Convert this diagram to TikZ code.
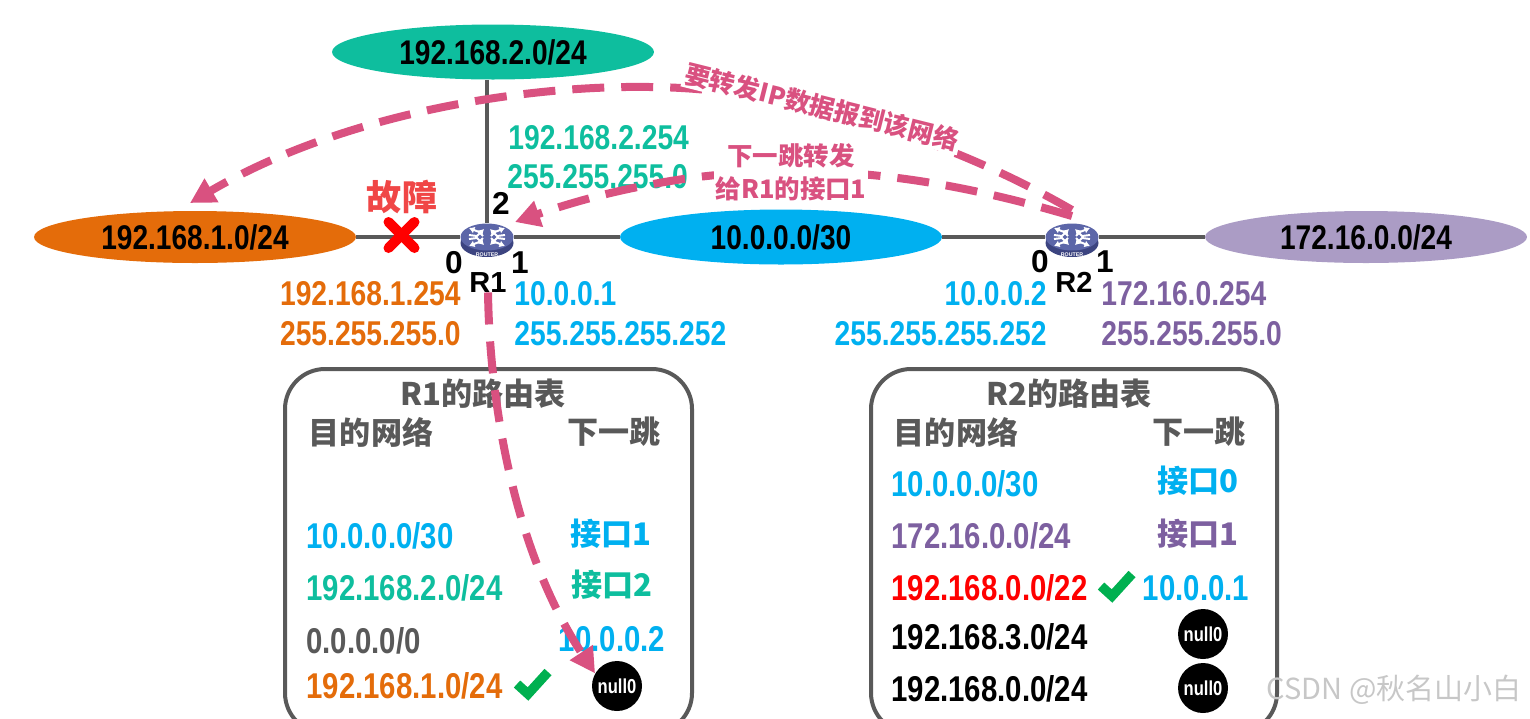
\documentclass[tikz,border=0pt]{standalone}
\usepackage{xcolor}
\usepackage{fontspec}
\setmainfont{Liberation Sans}[FakeStretch=0.82]
\newfontfamily\cjkfont{Noto Sans CJK SC}
\newfontfamily\widefont{Liberation Sans}
\usepackage{tikz}
\usetikzlibrary{calc,positioning,shapes.geometric,arrows.meta}
\definecolor{netorange}{RGB}{228,108,10}
\definecolor{netteal}{RGB}{14,190,158}
\definecolor{netblue}{RGB}{0,176,240}
\definecolor{netpurple}{RGB}{171,156,197}
\definecolor{txtpurple}{RGB}{125,96,160}
\definecolor{wiregray}{RGB}{89,89,89}
\definecolor{pathpink}{RGB}{217,81,128}
\definecolor{faultred}{RGB}{240,70,70}
\definecolor{tickgreen}{RGB}{0,176,80}
\definecolor{routertop}{RGB}{92,102,168}
\definecolor{routerside}{RGB}{60,68,128}
\tikzset{
 netcloud/.style={ellipse, minimum width=6.44cm, minimum height=1.1cm, inner sep=0pt,
        font=\fontsize{19.5}{23}\selectfont\bfseries},
 addrtext/.style={inner sep=0pt, text height=14.2pt, text depth=0pt,
        font=\fontsize{19.6}{24}\selectfont\bfseries},
 rowtext/.style={inner sep=0pt, text height=14.6pt, text depth=0pt,
        font=\fontsize{20.4}{24}\selectfont\bfseries},
 hanzi/.style={inner sep=0pt, font=\fontsize{17.7}{20}\selectfont\cjkfont\bfseries},
 porttext/.style={inner sep=0pt, text height=13pt, text depth=0pt,
        font=\fontsize{18}{22}\selectfont\widefont\bfseries},
 routername/.style={inner sep=0pt, text height=11.5pt, text depth=0pt,
        font=\fontsize{16.5}{19}\selectfont\widefont\bfseries},
 wire/.style={draw=wiregray, line width=.09cm},
 tablebox/.style={draw=wiregray, line width=.08cm, rounded corners=.8cm},
 nullhole/.style={circle, fill=black, text=white, minimum size=1cm, inner sep=0pt,
        font=\fontsize{11.5}{13}\selectfont\bfseries},
 pathline/.style={draw=pathpink, line width=.16cm, dash pattern=on .64cm off .34cm,
        -{Triangle[length=.5cm,width=.52cm]}},
 pathnote/.style={fill=white, text=pathpink, inner sep=1pt, align=center,
        font=\fontsize{14.5}{19}\selectfont\cjkfont\bfseries},
 routerbody/.style={ellipse, fill=routerside, minimum width=1.06cm, minimum height=.56cm, inner sep=0pt},
 routerface/.style={ellipse, fill=routertop, minimum width=1.06cm, minimum height=.54cm, inner sep=0pt},
 routerarrow/.style={draw=white, line width=.04cm, -{Latex[length=.11cm,width=.14cm]}},
 pics/tickmark/.style={code={
  \draw[tickgreen, line width=.19cm] (-15,-1) -- (-4,9) -- (16,-13);
 }},
}
\begin{document}
\begin{tikzpicture}[x=0.02cm, y=-0.02cm]
\useasboundingbox (0,0) rectangle (1530,718);
\clip (0,0) rectangle (1530,718);
% networks
\node[netcloud, fill=netteal] (net2) at (493,52) {192.168.2.0/24};
\node[netcloud, fill=netorange, minimum height=1.04cm] (net1) at (195,237) {192.168.1.0/24};
\node[netcloud, fill=netblue] (net10) at (781,237) {10.0.0.0/30};
\node[netcloud, fill=netpurple, minimum height=1.04cm] (net172) at (1366,237) {172.16.0.0/24};
% routers, with their ports and names
\foreach \rname/\x in {r1/487, r2/1072}{
 \node[routerbody] at (\x,243) {};
 \node[routerface] (\rname) at (\x,237) {};
 \foreach \dx/\dy in {-1/-1, 1/-1, -1/1, 1/1}{
  \draw[routerarrow] (\x+\dx*4,237+\dy*1) -- (\x+\dx*8,237+\dy*5) -- (\x+\dx*18,237+\dy*9);
  \draw[routerarrow] (\x+\dx*18,237+\dy*2) -- (\x+\dx*10,237+\dy*1) -- (\x+\dx*3,237+\dy*8);
 }
 \node[inner sep=0pt, text=white, font=\fontsize{3}{3}\selectfont\widefont\bfseries] at (\x,255) {ROUTER};
}
\node[routername] (r1name) at (488,282) {R1};
\node[routername] (r2name) at (1074,282) {R2};
\node[porttext] (p10) at (454,262) {0};
\node[porttext] (p11) at (520,262) {1};
\node[porttext] (p12) at (501,203) {2};
\node[porttext] (p20) at (1040,261) {0};
\node[porttext] (p21) at (1105,261) {1};
% links
\draw[wire] (net1) -- (r1);
\draw[wire] (r1) -- (net10);
\draw[wire] (net10) -- (r2);
\draw[wire] (r2) -- (net172);
\draw[wire] (net2.south -| r1) -- (r1);
% the broken link
\node[inner sep=0pt, text=faultred, font=\fontsize{20}{24}\selectfont\cjkfont\bfseries] (fault) at (402,197) {故障};
\coordinate (xmark) at (401.5,235);
\draw[red, line width=.2cm, line cap=round] ($(xmark)+(-13,-13)$) -- ($(xmark)+(13,13)$);
\draw[red, line width=.2cm, line cap=round] ($(xmark)+(13,-13)$) -- ($(xmark)+(-13,13)$);
% addresses on the interfaces
\foreach \l/\pos/\y/\side/\c [count=\i] in {%
 {192.168.2.254}/508/137/west/netteal, {255.255.255.0}/507/176/west/netteal,
 {192.168.1.254}/461/293/east/netorange, {255.255.255.0}/461/333/east/netorange,
 {10.0.0.1}/514/293/west/netblue, {255.255.255.252}/514/333/west/netblue,
 {10.0.0.2}/1047/293/east/netblue, {255.255.255.252}/1047/333/east/netblue,
 {172.16.0.254}/1101/293/west/txtpurple, {255.255.255.0}/1101/333/west/txtpurple%
}{
 \node[addrtext, text=\c, anchor=\side] (addr\i) at (\pos,\y) {\l};
}
% routing tables
\draw[tablebox] (285,369) rectangle (692,733);
\draw[tablebox] (871,369) rectangle (1277,733);
\foreach \l/\x/\y [count=\i] in {%
 R1的路由表/483/394, 目的网络/371/432, 下一跳/614/432,
 R2的路由表/1069/394, 目的网络/956/432, 下一跳/1199/432%
}{
 \node[hanzi, text=wiregray] (head\i) at (\x,\y) {\l};
}
% R1 rows
\foreach \l/\y/\c [count=\i] in {%
 {10.0.0.0/30}/536/netblue, {192.168.2.0/24}/588/netteal,
 {0.0.0.0/0}/641/wiregray, {192.168.1.0/24}/686/netorange%
}{
 \node[rowtext, text=\c, anchor=west] (dsta\i) at (306,\y) {\l};
}
\node[hanzi, text=netblue] (hopa1) at (611,534) {接口1};
\node[hanzi, text=netteal] (hopa2) at (612,585) {接口2};
\node[rowtext, text=netblue] (hopa3) at (612,639) {10.0.0.2};
\node[nullhole] (nulla) at (617,686) {null0};
\pic at (532,685) {tickmark};
% R2 rows
\foreach \l/\y/\c [count=\i] in {%
 {10.0.0.0/30}/484/netblue, {172.16.0.0/24}/536/txtpurple,
 {192.168.0.0/22}/588/red, {192.168.3.0/24}/637/black, {192.168.0.0/24}/689/black%
}{
 \node[rowtext, text=\c, anchor=west] (dstb\i) at (891,\y) {\l};
}
\node[hanzi, text=netblue] (hopb1) at (1198,481) {接口0};
\node[hanzi, text=txtpurple] (hopb2) at (1198,534) {接口1};
\node[rowtext, text=netblue] (hopb3) at (1196,588) {10.0.0.1};
\node[nullhole] (nullb) at (1203,634) {null0};
\node[nullhole] (nullc) at (1203,688) {null0};
\pic at (1116,587) {tickmark};
% forwarding paths
\coordinate (r2top) at (1072,210);
\coordinate (r2side) at (1072,216);
\coordinate (net1top) at (190,203);
\coordinate (r1top) at (515,222);
\draw[pathline] (r2top) .. controls (960,145) and (800,88) .. (650,87)
 .. controls (520,85) and (340,115) .. (net1top);
\draw[pathline] (r2side) .. controls (950,180) and (830,160) .. (690,178)
 .. controls (620,188) and (570,203) .. (r1top);
\draw[pathline] (r1name.south) .. controls (490,420) and (520,560) .. (nulla.150);
\node[pathnote, rotate=-14] (note1) at (822,107) {要转发IP数据报到该网络};
\node[pathnote] (note2) at (791,172) {下一跳转发\\给R1的接口1};
% watermark
\node[inner sep=0pt, text=black!22, anchor=east, font=\fontsize{16.5}{18}\selectfont\cjkfont] (mark) at (1522,690) {CSDN @秋名山小白};
\end{tikzpicture}
\end{document}
